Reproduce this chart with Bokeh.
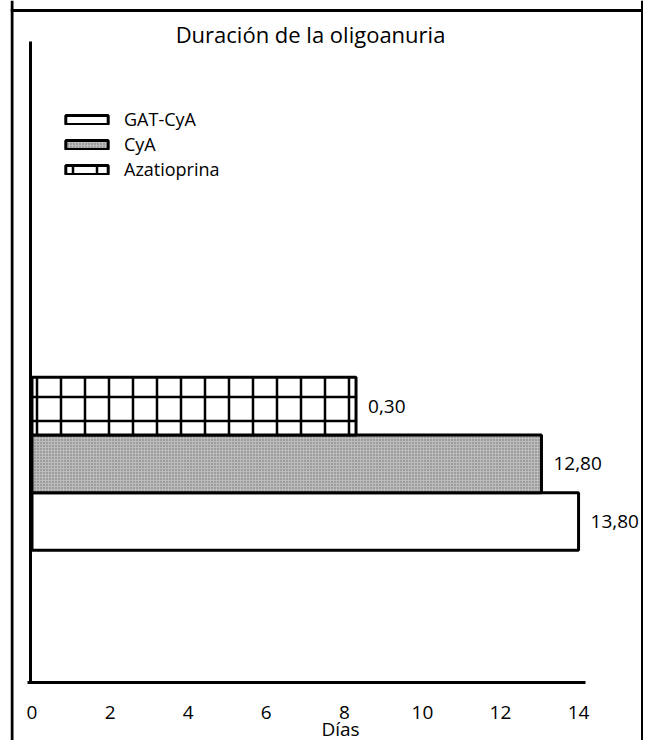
from bokeh.plotting import figure
from bokeh.models import (Range1d, Span, Label, ColumnDataSource, FixedTicker,
                          Legend, LegendItem)
from bokeh.core.properties import value
from bokeh.embed import file_html
from bokeh.resources import INLINE

# ---------------- data ----------------
title_text = "Duración de la oligoanuria"
xlabel_text = "Días"
treatments = ["GAT-CyA", "CyA", "Azatioprina"]
days = [14.0, 13.05, 8.3]            # bar lengths as drawn
value_labels = ["13,80", "12,80", "0,30"]
bar_pos = [1, 2, 3]
x_ticks = [0, 2, 4, 6, 8, 10, 12, 14]

FONT = "Open Sans"
W, H = 643, 740
LEFT = 10  # frame starts here (outer box edge)

# canvas-pixel anchors -> data coordinates (layout of ranges/annotations)
PX0, PX_PER = 31.5, 39.04
PY1, PY_PER = 521.0, 57.7


def X(px):
    return (px - PX0) / PX_PER


def Y(py):
    return 1 + (PY1 - py) / PY_PER


p = figure(width=W, height=H, output_backend="svg", toolbar_location=None,
           x_range=Range1d(X(LEFT), X(W)), y_range=Range1d(Y(H), Y(0)),
           min_border=0, min_border_left=LEFT, min_border_right=0,
           min_border_top=0, min_border_bottom=0)
p.grid.visible = False
p.outline_line_color = None
p.background_fill_color = "white"
p.border_fill_color = "white"

# x axis drawn inside the frame
xa = p.xaxis[0]
xa.fixed_location = Y(682)
xa.bounds = (X(27), X(585))
xa.ticker = FixedTicker(ticks=x_ticks)
xa.major_tick_line_color = None
xa.minor_tick_line_color = None
xa.axis_line_width = 3
xa.axis_line_color = "black"
xa.major_label_text_font = FONT
xa.major_label_text_font_size = "19px"
xa.major_label_text_color = "black"
xa.major_label_standoff = 17

ya = p.yaxis[0]
ya.fixed_location = X(29.5)
ya.bounds = (Y(682), Y(41))
ya.ticker = FixedTicker(ticks=[])
ya.major_tick_line_color = None
ya.minor_tick_line_color = None
ya.axis_line_width = 3
ya.axis_line_color = "black"

styles = [
    dict(fill_color="white"),
    dict(fill_color="#bcbcbc", hatch_pattern="dot", hatch_scale=3,
         hatch_color="#6e6e6e", hatch_weight=1),
    dict(fill_color="white", hatch_pattern="+", hatch_scale=24,
         hatch_color="black", hatch_weight=2.5),
]

renderers = []
for i in range(len(treatments)):
    src = ColumnDataSource(dict(y=[bar_pos[i]], right=[days[i]]))
    r = p.hbar(y="y", right="right", left=0, height=1, source=src,
               line_color="black", line_width=3, **styles[i])
    renderers.append(r)

lab_src = ColumnDataSource(dict(x=days, y=bar_pos, text=value_labels))
p.text(x="x", y="y", text="text", source=lab_src, x_offset=12,
       text_baseline="middle", text_align="left",
       text_font=value(FONT), text_font_size="19px", text_color="black")

# legend: one entry per row so the row spacing can follow the reference
row_centers = [119, 144, 169]     # canvas px (vertical layout of entries)
ITEM_H = 24.5
for i in range(len(treatments)):
    leg = Legend(items=[LegendItem(label=treatments[i],
                                   renderers=[renderers[i]])],
                 location=(60 - LEFT, H - (row_centers[i] + ITEM_H / 2)))
    leg.padding = 0
    leg.margin = 0
    leg.spacing = 0
    leg.border_line_color = None
    leg.background_fill_alpha = 0
    leg.glyph_width = 53
    leg.glyph_height = 11
    leg.label_standoff = 11
    leg.label_height = 18
    leg.label_text_font = FONT
    leg.label_text_font_size = "18px"
    leg.label_text_color = "black"
    p.add_layout(leg, "center")

p.add_layout(Label(x=X(310), y=Y(33), text=title_text, text_align="center",
                   text_baseline="middle", text_font=FONT,
                   text_font_size="22px", text_color="black"))
p.add_layout(Label(x=X(340), y=Y(728), text=xlabel_text, text_align="center",
                   text_baseline="middle", text_font=FONT,
                   text_font_size="19px", text_color="black"))

# outer frame (left, right, top)
p.add_layout(Span(location=X(11.5), dimension="height", line_width=3,
                  line_color="black"))
p.add_layout(Span(location=X(642), dimension="height", line_width=3,
                  line_color="black"))
p.add_layout(Span(location=Y(10), dimension="width", line_width=3,
                  line_color="black"))

open("out.html", "w").write(file_html(p, INLINE))
